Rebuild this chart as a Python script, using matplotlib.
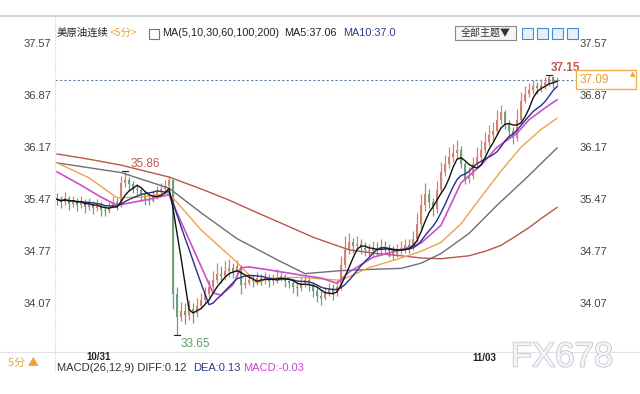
import matplotlib
matplotlib.use("Agg")
import matplotlib.pyplot as plt
import matplotlib.patheffects as pe
from matplotlib.lines import Line2D
from matplotlib.patches import Rectangle
import numpy as np
import pandas as pd

plt.rcParams['font.family'] = ['Liberation Sans', 'Noto Sans CJK SC', 'DejaVu Sans']

# 5-minute candles, 美原油连续
closes = [35.48, 35.44, 35.50, 35.42, 35.46, 35.40, 35.45, 35.38, 35.42, 35.36,
          35.40, 35.34, 35.32, 35.38, 35.44, 35.40, 35.70, 35.74, 35.68, 35.62,
          35.60, 35.55, 35.48, 35.46, 35.52, 35.58, 35.62, 35.66, 35.74, 34.20,
          33.90, 33.98, 33.92, 34.00, 33.95, 34.05, 34.12, 34.20, 34.30, 34.40,
          34.48, 34.45, 34.52, 34.55, 34.50, 34.58, 34.32, 34.36, 34.40, 34.38,
          34.42, 34.40, 34.42, 34.38, 34.40, 34.44, 34.45, 34.38, 34.36, 34.30,
          34.28, 34.35, 34.40, 34.32, 34.25, 34.18, 34.15, 34.22, 34.28, 34.22,
          34.30, 34.60, 34.80, 34.90, 34.85, 34.88, 34.82, 34.80, 34.78, 34.82,
          34.80, 34.84, 34.82, 34.78, 34.75, 34.80, 34.82, 34.86, 34.84, 34.95,
          35.15, 35.40, 35.55, 35.45, 35.35, 35.60, 35.85, 35.95, 36.05, 36.10,
          36.15, 35.95, 35.75, 35.80, 35.95, 36.05, 36.15, 36.25, 36.35, 36.40,
          36.55, 36.65, 36.50, 36.40, 36.30, 36.55, 36.80, 36.90, 36.95, 37.00,
          36.98, 37.02, 37.05, 37.12, 37.06, 37.09]
highs = [35.56, 35.52, 35.58, 35.53, 35.52, 35.50, 35.52, 35.48, 35.50, 35.46,
         35.48, 35.44, 35.40, 35.45, 35.52, 35.50, 35.80, 35.86, 35.78, 35.72,
         35.68, 35.65, 35.58, 35.54, 35.60, 35.66, 35.70, 35.74, 35.80, 35.76,
         34.30, 34.10, 34.08, 34.12, 34.08, 34.15, 34.22, 34.30, 34.40, 34.52,
         34.62, 34.58, 34.65, 34.68, 34.62, 34.66, 34.60, 34.44, 34.48, 34.46,
         34.50, 34.48, 34.50, 34.48, 34.48, 34.54, 34.52, 34.48, 34.44, 34.40,
         34.36, 34.44, 34.48, 34.44, 34.36, 34.30, 34.24, 34.30, 34.36, 34.34,
         34.40, 34.72, 34.98, 35.02, 34.96, 34.98, 34.94, 34.90, 34.88, 34.92,
         34.90, 34.94, 34.92, 34.88, 34.85, 34.88, 34.92, 34.95, 34.94, 35.05,
         35.30, 35.55, 35.70, 35.62, 35.50, 35.72, 35.98, 36.08, 36.18, 36.22,
         36.28, 36.20, 35.98, 35.92, 36.05, 36.18, 36.28, 36.38, 36.48, 36.52,
         36.68, 36.75, 36.68, 36.55, 36.45, 36.70, 36.92, 37.00, 37.05, 37.08,
         37.06, 37.10, 37.12, 37.15, 37.14, 37.13]
lows = [35.40, 35.36, 35.40, 35.34, 35.38, 35.32, 35.36, 35.30, 35.34, 35.28,
        35.32, 35.26, 35.25, 35.30, 35.36, 35.34, 35.38, 35.64, 35.60, 35.56,
        35.52, 35.46, 35.40, 35.40, 35.44, 35.48, 35.54, 35.58, 35.64, 34.00,
        33.65, 33.84, 33.80, 33.86, 33.82, 33.90, 34.00, 34.08, 34.16, 34.26,
        34.36, 34.36, 34.40, 34.44, 34.42, 34.44, 34.20, 34.28, 34.32, 34.30,
        34.32, 34.32, 34.34, 34.30, 34.32, 34.36, 34.38, 34.30, 34.28, 34.22,
        34.18, 34.24, 34.30, 34.24, 34.16, 34.10, 34.06, 34.12, 34.18, 34.12,
        34.18, 34.26, 34.55, 34.74, 34.76, 34.78, 34.74, 34.72, 34.70, 34.72,
        34.72, 34.74, 34.74, 34.70, 34.66, 34.70, 34.74, 34.76, 34.76, 34.80,
        34.90, 35.10, 35.32, 35.36, 35.26, 35.30, 35.55, 35.80, 35.90, 35.98,
        36.02, 35.90, 35.68, 35.70, 35.76, 35.92, 36.00, 36.10, 36.20, 36.28,
        36.36, 36.50, 36.42, 36.30, 36.22, 36.26, 36.50, 36.78, 36.86, 36.90,
        36.90, 36.92, 36.96, 37.00, 36.98, 37.00]
first_open = 35.50

# longer averages at selected candles
ma30_idx = [0, 6, 11, 15, 18, 23, 28, 39, 41, 44, 46, 48, 53, 61, 66, 70, 73, 79,
            86, 91, 96, 101, 106, 110, 115, 118, 122, 125]
ma30_val = [35.85, 35.67, 35.51, 35.40, 35.43, 35.48, 35.54, 34.22, 34.19, 34.33,
            34.56, 34.57, 34.53, 34.46, 34.42, 34.35, 34.50, 34.70, 34.80, 34.89,
            35.13, 35.70, 35.94, 36.18, 36.37, 36.55, 36.71, 36.82]
ma60_idx = [0, 8, 15, 21, 28, 36, 45, 50, 53, 61, 71, 78, 86, 91, 96, 101, 106,
            111, 116, 121, 125]
ma60_val = [35.97, 35.77, 35.50, 35.51, 35.56, 35.07, 34.63, 34.35, 34.42, 34.43,
            34.39, 34.56, 34.69, 34.78, 34.90, 35.15, 35.51, 35.86, 36.18, 36.42,
            36.57]
ma100_idx = [0, 16, 28, 36, 45, 56, 62, 71, 80, 86, 91, 96, 103, 110, 117, 125]
ma100_val = [35.97, 35.84, 35.63, 35.30, 34.95, 34.64, 34.48, 34.52, 34.54, 34.55,
             34.62, 34.75, 35.02, 35.40, 35.75, 36.17]
ma200_idx = [0, 8, 16, 28, 36, 43, 50, 56, 64, 73, 80, 86, 91, 96, 103, 107, 111,
             114, 118, 121, 125]
ma200_val = [36.09, 36.02, 35.94, 35.78, 35.62, 35.47, 35.30, 35.16, 34.97, 34.80,
             34.75, 34.72, 34.69, 34.68, 34.72, 34.78, 34.86, 34.96, 35.10, 35.22,
             35.37]

yticks = [34.07, 34.77, 35.47, 36.17, 36.87, 37.57]
last_price = 37.09
hi_label, lo_label, top_label = 35.86, 33.65, 37.15
hi_pos, lo_pos, top_pos = 17, 30, 123

W, H = 640, 394
fig = plt.figure(figsize=(W / 100, H / 100), dpi=100)


def fx(x):
    return x / W


def fy(y):
    return 1 - y / H


ax = fig.add_axes([fx(55), fy(352), fx(576) - fx(55), fy(16) - fy(352)])
ax.set_xlim(-0.5, 129.75)
ax.set_ylim(33.425, 37.947)
for s in ax.spines.values():
    s.set_visible(False)
ax.set_xticks([])
ax.set_yticks([])

n = len(closes)
idx = np.arange(n)
c = np.array(closes)
o = np.concatenate([[first_open], c[:-1]])
up = c >= o
up_col, dn_col = '#d4826e', '#6f9f78'
cols = [up_col if u else dn_col for u in up]
ax.vlines(idx, lows, highs, colors=cols, lw=0.9, zorder=2)
body = np.where(np.abs(c - o) < 0.01, 0.01, c - o)
ax.bar(idx, body, bottom=o, width=0.55, color=cols, lw=0, zorder=2)

s = pd.Series(closes)
ax.plot(ma200_idx, ma200_val, color='#b5584a', lw=1.0, zorder=3)
ax.plot(ma100_idx, ma100_val, color='#6e6e78', lw=1.0, zorder=3)
ax.plot(ma60_idx, ma60_val, color='#eda34a', lw=1.0, zorder=3)
ax.plot(ma30_idx, ma30_val, color='#cc4fcc', lw=1.2, zorder=3)
ax.plot(idx, s.rolling(10, min_periods=1).mean(), color='#2b2f8a', lw=1.0, zorder=4)
ax.plot(idx, s.rolling(5, min_periods=1).mean(), color='#111111', lw=1.0, zorder=5)

ax.axhline(last_price, color='#5f7f9f', lw=0.8, ls=(0, (2, 2)), zorder=1)

# high / low markers
ax.plot([hi_pos - 0.8, hi_pos + 0.8], [hi_label, hi_label], color='#222', lw=0.8)
ax.plot([lo_pos - 0.8, lo_pos + 0.8], [lo_label, lo_label], color='#222', lw=0.8)
ax.plot([top_pos - 0.8, top_pos + 0.8], [top_label, top_label], color='#222', lw=0.8)
ax.text(hi_pos + 1.5, hi_label + 0.02, f'{hi_label:.2f}', color='#c0584a', fontsize=8.5,
        va='bottom', ha='left')
ax.text(lo_pos + 0.8, lo_label - 0.03, f'{lo_label:.2f}', color='#5e9e60', fontsize=8.5,
        va='top', ha='left')
ax.text(top_pos + 0.5, top_label + 0.02, f'{top_label:.2f}', color='#c0584a', fontsize=8.5,
        va='bottom', ha='left', fontweight='bold')

# y tick labels on both sides
for v in yticks:
    yf = ax.transData.transform((0, v))[1] / H
    fig.text(fx(51), yf, f'{v:.2f}', ha='right', va='center', fontsize=8, color='#444')
    fig.text(fx(580), yf, f'{v:.2f}', ha='left', va='center', fontsize=8, color='#444')

# frame lines
fig.add_artist(Line2D([0, 1], [fy(15.5), fy(15.5)], color='#d8d8d8', lw=1.5))
fig.add_artist(Line2D([fx(55), fx(55)], [fy(16), fy(372)], color='#e0e0e0', lw=0.8,
                      ls=(0, (2, 1))))
fig.add_artist(Line2D([0, 1], [fy(352), fy(352)], color='#e2e2e2', lw=0.8))

# current price box
yp = ax.transData.transform((0, last_price))[1] / H
fig.add_artist(Rectangle((fx(576), yp - 9.5 / H), 60 / W, 19 / H, facecolor='white',
                         edgecolor='#f0b050', lw=1.0))
fig.text(fx(580), yp, f'{last_price:.2f}', color='#e69a2e', fontsize=8.5, va='center')
fig.text(fx(633), fy(74), '▲', color='#f0a030', fontsize=5, ha='center', va='center',
         family='DejaVu Sans')

# header
cjk = ['Noto Sans CJK SC', 'DejaVu Sans']
fig.text(fx(57), fy(33), '美原油连续', fontsize=7.5, color='#222', va='center', family=cjk)
fig.text(fx(110), fy(33), '<5分>', fontsize=7.5, color='#f0a040', va='center', family=cjk)
fig.add_artist(Rectangle((fx(149), fy(39)), 10 / W, 10 / H, facecolor='white',
                         edgecolor='#7a6aa8', lw=0.8))
fig.text(fx(162), fy(33), 'MA(5,10,30,60,100,200)', fontsize=7.8, color='#222', va='center')
fig.text(fx(284), fy(33), 'MA5:37.06', fontsize=7.8, color='#222', va='center')
fig.text(fx(343), fy(33), 'MA10:37.0', fontsize=7.8, color='#2b3a8a', va='center')
fig.add_artist(Rectangle((fx(455), fy(40)), 61 / W, 14 / H, facecolor='#f6f6f6',
                         edgecolor='#888', lw=0.8))
fig.text(fx(485.5), fy(33), '全部主题▼', fontsize=7.2, color='#333', va='center',
         ha='center', family=cjk)
for x0 in [522, 537, 552, 567]:
    fig.add_artist(Rectangle((fx(x0), fy(39)), 11 / W, 11 / H, facecolor='#e8f0fa',
                             edgecolor='#4a8ad0', lw=0.8))

# bottom strip
fig.text(fx(8), fy(363), '5分 ▲', fontsize=8, color='#f0a040', va='center', family=cjk)
fig.text(fx(99), fy(357), '10/31', fontsize=7, color='#222', va='center', ha='center',
         fontweight='bold')
fig.text(fx(484), fy(358), '11/03', fontsize=7, color='#222', va='center', ha='center',
         fontweight='bold')
fig.text(fx(57), fy(368), 'MACD(26,12,9) DIFF:0.12', fontsize=8, color='#333', va='center')
fig.text(fx(193), fy(368), 'DEA:0.13', fontsize=8, color='#2b3a8a', va='center')
fig.text(fx(243), fy(368), 'MACD:-0.03', fontsize=8, color='#cc44cc', va='center')
fig.text(fx(562), fy(357), 'FX678', fontsize=25, color='#f3f5f8', va='center', ha='center',
         path_effects=[pe.withStroke(linewidth=1.2, foreground='#c2c9d3')])

fig.savefig('out.png', dpi=100, facecolor='white')
